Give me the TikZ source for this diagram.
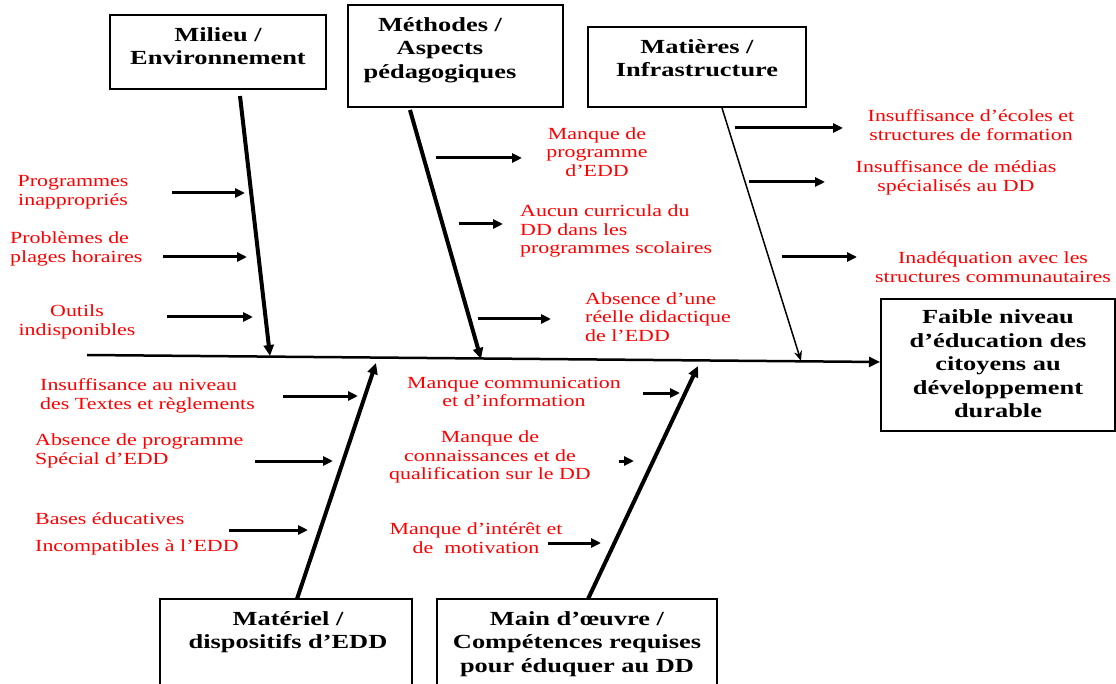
\documentclass[tikz,border=0pt]{standalone}
\usepackage{fontspec}
\setmainfont{Liberation Serif}[FakeStretch=1.29, BoldFeatures={FakeStretch=1.32}]
\usetikzlibrary{arrows.meta}
\tikzset{
  redtxt/.style={text={rgb,255:red,255;green,0;blue,0}, font=\fontsize{17}{18.5}\selectfont, inner sep=0pt},
  boldtxt/.style={font=\fontsize{20}{23.5}\selectfont\bfseries, inner sep=0pt, align=center},
  bone/.style={line width=4pt, -{Triangle[length=11pt,width=10pt]}},
  thinbone/.style={line width=1.5pt, -{Stealth[length=10pt,width=8pt]}},
  spine/.style={line width=2.5pt, -{Triangle[length=11pt,width=10pt]}},
  sub/.style={line width=3pt, -{Triangle[length=10pt,width=9pt]}}
}
\begin{document}
\begin{tikzpicture}[x=1pt,y=-1pt]
\useasboundingbox (0,0) rectangle (1116,684);
\clip (0,0) rectangle (1116,684);
% boxes
\draw[line width=1.5pt] (110,15) rectangle (326,89);
\node[boldtxt] (milieu) at (218,46) {Milieu /\\Environnement};
\draw[line width=1.5pt] (348,5) rectangle (563,107);
\node[boldtxt] (methodes) at (440,50) {Méthodes /\\Aspects\\pédagogiques};
\draw[line width=1.5pt] (588,27) rectangle (806,107);
\node[boldtxt] (matieres) at (697,58) {Matières /\\Infrastructure};
\draw[line width=1.5pt] (881,299) rectangle (1115,431);
\node[boldtxt] (effet) at (998,364) {Faible niveau\\d’éducation des\\citoyens au\\développement\\durable};
\draw[line width=1.5pt] (160,599) rectangle (412,700);
\node[boldtxt] (materiel) at (288,632) {Matériel /\\dispositifs d’EDD};
\draw[line width=1.5pt] (437,599) rectangle (717,700);
\node[boldtxt] (main) at (577,644) {Main d’œuvre /\\Compétences requises\\pour éduquer au DD};
% spine and bones
\coordinate (spS) at (87,355);
\coordinate (spE) at (880,362);
\draw[spine] (spS) -- (spE);
\coordinate (b1s) at (240,96);  \coordinate (b1e) at (270,356);
\coordinate (b2s) at (410,110); \coordinate (b2e) at (481,359);
\coordinate (b3s) at (722,108); \coordinate (b3e) at (801,361);
\coordinate (b4s) at (297,599); \coordinate (b4e) at (376,363);
\coordinate (b5s) at (588,599); \coordinate (b5e) at (698,366);
\draw[bone] (b1s) -- (b1e);
\draw[bone] (b2s) -- (b2e);
\draw[thinbone] (b3s) -- (b3e);
\draw[bone] (b4s) -- (b4e);
\draw[bone] (b5s) -- (b5e);
% sub arrows
\draw[sub] (172,193) -- (245,193);
\draw[sub] (163,257) -- (247,257);
\draw[sub] (167,317) -- (253,317);
\draw[sub] (436,158) -- (522,158);
\draw[sub] (459,224) -- (503,224);
\draw[sub] (478,319) -- (551,319);
\draw[sub] (735,128) -- (843,128);
\draw[sub] (749,182) -- (825,182);
\draw[sub] (782,257) -- (857,257);
\draw[sub] (283,396) -- (358,396);
\draw[sub] (255,461) -- (333,461);
\draw[sub] (229,530) -- (308,530);
\draw[sub] (643,393) -- (680,393);
\draw[sub] (619,461) -- (634,461);
\draw[sub] (548,543) -- (601,543);
% red labels
\node[redtxt, align=center] (l1) at (73,192) {Programmes\\inappropriés};
\node[redtxt, align=left, anchor=west] (l2) at (10,249) {Problèmes de\\plages horaires};
\node[redtxt, align=center] (l3) at (77,322) {Outils\\indisponibles};
\node[redtxt, align=center] (m1) at (597,152) {Manque de\\programme\\d’EDD};
\node[redtxt, align=left, anchor=west] (m2) at (520,231) {Aucun curricula du\\DD dans les\\programmes scolaires};
\node[redtxt, align=left, anchor=west] (m3) at (585,317) {Absence d’une\\réelle didactique\\de l’EDD};
\node[redtxt, align=center] (t1) at (971,125) {Insuffisance d’écoles et\\structures de formation};
\node[redtxt, align=center] (t2) at (956,178) {Insuffisance de médias\\spécialisés au DD};
\node[redtxt, align=center] (t3) at (993,267) {Inadéquation avec les\\structures communautaires};
\node[redtxt, align=left, anchor=west] (d1) at (40,396) {Insuffisance au niveau\\des Textes et règlements};
\node[redtxt, align=left, anchor=west] (d2) at (35,451) {Absence de programme\\Spécial d’EDD};
\node[redtxt, align=left, anchor=west] (d3) at (35,534) {Bases éducatives\\[9pt]Incompatibles à l’EDD};
\node[redtxt, align=center] (w1) at (514,392) {Manque communication\\et d’information};
\node[redtxt, align=center] (w2) at (490,457) {Manque de\\connaissances et de\\qualification sur le DD};
\node[redtxt, align=center] (w3) at (476,538) {Manque d’intérêt et\\de\ \ motivation};
\end{tikzpicture}
\end{document}
